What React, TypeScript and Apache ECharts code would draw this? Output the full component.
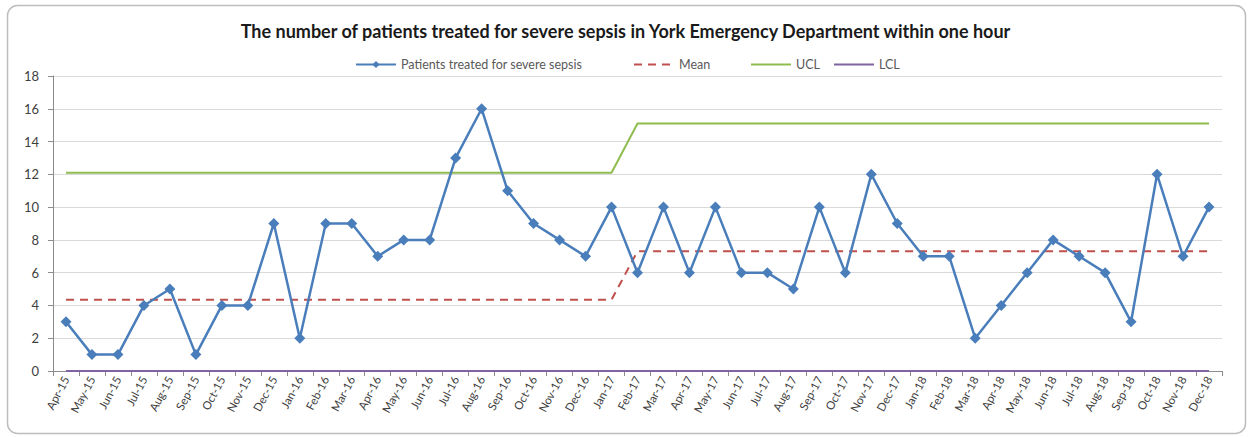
import React, { useEffect, useRef } from "react";
import * as echarts from "echarts";

// Monthly categories, April 2015 to December 2018
const months: string[] = [
  "Apr-15", "May-15", "Jun-15", "Jul-15", "Aug-15", "Sep-15", "Oct-15", "Nov-15", "Dec-15",
  "Jan-16", "Feb-16", "Mar-16", "Apr-16", "May-16", "Jun-16", "Jul-16", "Aug-16", "Sep-16",
  "Oct-16", "Nov-16", "Dec-16", "Jan-17", "Feb-17", "Mar-17", "Apr-17", "May-17", "Jun-17",
  "Jul-17", "Aug-17", "Sep-17", "Oct-17", "Nov-17", "Dec-17", "Jan-18", "Feb-18", "Mar-18",
  "Apr-18", "May-18", "Jun-18", "Jul-18", "Aug-18", "Sep-18", "Oct-18", "Nov-18", "Dec-18",
];

const patients: number[] = [
  3, 1, 1, 4, 5, 1, 4, 4, 9,
  2, 9, 9, 7, 8, 8, 13, 16, 11,
  9, 8, 7, 10, 6, 10, 6, 10, 6,
  6, 5, 10, 6, 12, 9, 7, 7, 2,
  4, 6, 8, 7, 6, 3, 12, 7, 10,
];

// Control limits: first period Apr-15..Jan-17 (22 months), second period Feb-17..Dec-18 (23 months)
const meanValues: number[] = [
  ...Array(22).fill(4.35),
  ...Array(23).fill(7.3),
];
const uclValues: number[] = [
  ...Array(22).fill(12.1),
  ...Array(23).fill(15.1),
];
const lclValues: number[] = Array(45).fill(0);

const yTicks = { min: 0, max: 18, interval: 2 };

const seriesNames = ["Patients treated for severe sepsis", "Mean", "UCL", "LCL"];
const legendLefts = [350, 628, 745, 828];

const FONT = "Lato, 'Liberation Sans', sans-serif";

export default function App() {
  const ref = useRef<HTMLDivElement>(null);

  useEffect(() => {
    if (!ref.current) return;
    const chart = echarts.init(ref.current, undefined, { renderer: "svg" });

    // one legend block per series so each entry sits at its own x position
    const legends = seriesNames.map((name, i) => ({
      top: 53,
      left: legendLefts[i],
      itemWidth: 40,
      itemHeight: 9,
      textStyle: { fontFamily: FONT, fontSize: 12.5, color: "#595959" },
      data: [i === 0 ? { name } : { name, itemStyle: { opacity: 0 } }],
    }));

    chart.setOption({
      animation: false,
      backgroundColor: "#ffffff",
      textStyle: { fontFamily: FONT },
      graphic: [
        {
          type: "rect",
          shape: { x: 7.5, y: 5.5, width: 1238, height: 428, r: 10 },
          style: { fill: "none", stroke: "#bdbdbd", lineWidth: 1.5 },
          silent: true,
          z: -1,
        },
      ],
      title: {
        text: "The number of patients treated for severe sepsis in York Emergency Department within one hour",
        left: "center",
        top: 17,
        textStyle: { fontFamily: FONT, fontWeight: "bold", fontSize: 18, color: "#1a1a1a" },
      },
      legend: legends,
      grid: { left: 53, right: 29, top: 76, bottom: 66 },
      xAxis: {
        type: "category",
        data: months,
        boundaryGap: true,
        axisLine: { lineStyle: { color: "#8c8c8c", width: 1 } },
        axisTick: { show: true, alignWithLabel: false, length: 5, lineStyle: { color: "#8c8c8c" } },
        axisLabel: {
          interval: 0,
          rotate: 62,
          fontSize: 11.5,
          color: "#404040",
          fontFamily: FONT,
          margin: 6,
        },
      },
      yAxis: {
        type: "value",
        min: yTicks.min,
        max: yTicks.max,
        interval: yTicks.interval,
        axisLine: { show: true, lineStyle: { color: "#8c8c8c", width: 1 } },
        axisTick: { show: true, length: 5, lineStyle: { color: "#8c8c8c" } },
        axisLabel: { fontSize: 13, color: "#404040", fontFamily: FONT, margin: 14 },
        splitLine: { lineStyle: { color: "#d9d9d9", width: 1 } },
      },
      series: [
        {
          name: "LCL",
          type: "line",
          data: lclValues,
          symbol: "none",
          lineStyle: { color: "#8064a2", width: 2 },
          itemStyle: { color: "#8064a2" },
          z: 1,
        },
        {
          name: "UCL",
          type: "line",
          data: uclValues,
          symbol: "none",
          lineStyle: { color: "#8fbc4f", width: 2 },
          itemStyle: { color: "#8fbc4f" },
          z: 2,
        },
        {
          name: "Mean",
          type: "line",
          data: meanValues,
          symbol: "none",
          lineStyle: { color: "#c0504d", width: 2, type: [8, 6] },
          itemStyle: { color: "#c0504d" },
          z: 3,
        },
        {
          name: "Patients treated for severe sepsis",
          type: "line",
          data: patients,
          symbol: "diamond",
          symbolSize: 11,
          lineStyle: { color: "#4a7ebb", width: 2.5 },
          itemStyle: { color: "#4a7ebb" },
          z: 4,
        },
      ],
    });
    return () => chart.dispose();
  }, []);

  return (
    <div
      ref={ref}
      style={{ position: "fixed", left: 0, top: 0, width: 1251, height: 437 }}
    />
  );
}
